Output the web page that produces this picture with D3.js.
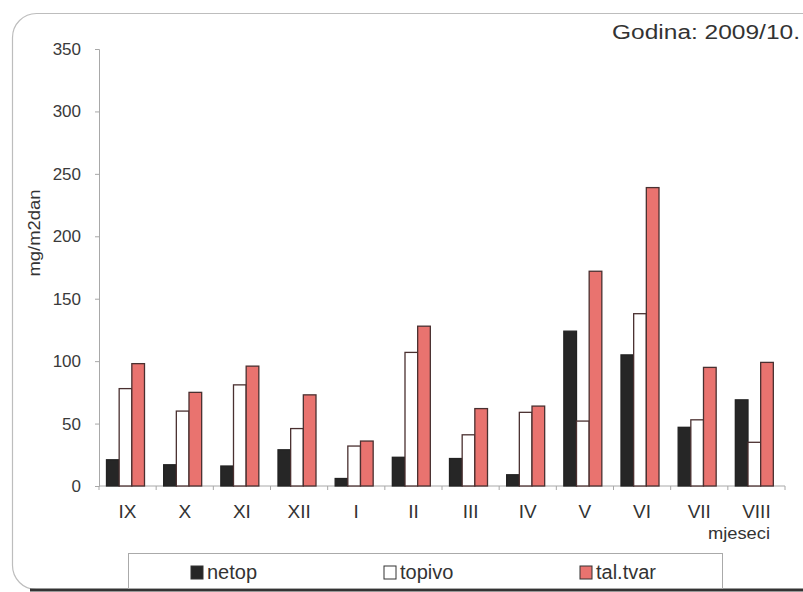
<!DOCTYPE html>
<html>
<head>
<meta charset="utf-8">
<script src="https://cdn.jsdelivr.net/npm/d3@7"></script>
<style>
  body { margin: 0; background: #fff; }
  svg { display: block; font-family: "Liberation Sans", Arial, sans-serif; }
</style>
</head>
<body>
<script>
// months of the season (Roman numerals)
const months = ["IX", "X", "XI", "XII", "I", "II", "III", "IV", "V", "VI", "VII", "VIII"];
const seriesNames = ["netop", "topivo", "tal.tvar"];
const netop   = [21, 17, 16, 29, 6, 23, 22, 9, 124, 105, 47, 69];
const topivo  = [78, 60, 81, 46, 32, 107, 41, 59, 52, 138, 53, 35];
const talTvar = [98, 75, 96, 73, 36, 128, 62, 64, 172, 239, 95, 99];
const yTicks = [0, 50, 100, 150, 200, 250, 300, 350];
const colors = ["#262626", "#ffffff", "#e9736f"];

function main() {
    let width = 803, height = 592;
    let svg = d3.select("body").append("svg")
        .attr("width", width)
        .attr("height", height);

    // rounded frame of the scanned chart
    svg.append("rect")
        .attr("x", 12.5).attr("y", 13.5)
        .attr("width", 820).attr("height", 576)
        .attr("rx", 24)
        .attr("fill", "#fff")
        .attr("stroke", "#bdbdbd")
        .attr("stroke-width", 1.2);
    svg.append("line")
        .attr("x1", 30).attr("x2", 803)
        .attr("y1", 590).attr("y2", 590)
        .attr("stroke", "#333").attr("stroke-width", 3);

    let x0 = d3.scaleBand().domain(months).range([99, 785]).padding(0);
    let x1 = d3.scaleBand().domain(seriesNames).range([7.5, 45.5]).padding(0);
    let y = d3.scaleLinear().domain([0, 350]).range([486, 49]);

    let data = months.map((m, i) => ({
        month: m,
        values: [netop[i], topivo[i], talTvar[i]]
    }));

    // y axis
    let yAxis = svg.append("g")
        .attr("transform", "translate(99,0)")
        .call(d3.axisLeft(y).tickValues(yTicks).tickSize(4).tickPadding(14));
    yAxis.select(".domain").attr("stroke", "#a8a8a8");
    yAxis.selectAll(".tick line").attr("stroke", "#a8a8a8");
    yAxis.selectAll(".tick text")
        .attr("font-size", 17)
        .attr("fill", "#3a3a3a")
        .attr("font-family", "Liberation Sans, Arial, sans-serif");

    // x axis, ticks on category boundaries
    let boundaries = months.map(m => x0(m)).concat([x0(months[months.length - 1]) + x0.bandwidth()]);
    svg.append("line")
        .attr("x1", 99).attr("x2", 785)
        .attr("y1", y(0)).attr("y2", y(0))
        .attr("stroke", "#a8a8a8");
    svg.append("g").selectAll("line")
        .data(boundaries)
        .enter().append("line")
        .attr("x1", d => d).attr("x2", d => d)
        .attr("y1", y(0)).attr("y2", y(0) + 4)
        .attr("stroke", "#a8a8a8");
    svg.append("g").selectAll("text")
        .data(months)
        .enter().append("text")
        .attr("x", d => x0(d) + x0.bandwidth() / 2)
        .attr("y", 518)
        .attr("text-anchor", "middle")
        .attr("font-size", 19)
        .attr("fill", "#333")
        .text(d => d);

    // bars
    let groups = svg.append("g").selectAll("g")
        .data(data)
        .enter().append("g")
        .attr("transform", d => "translate(" + x0(d.month) + ",0)");
    groups.selectAll("rect")
        .data(d => d.values.map((v, i) => ({ key: seriesNames[i], value: v, i: i })))
        .enter().append("rect")
        .attr("x", d => x1(d.key))
        .attr("y", d => y(d.value))
        .attr("width", x1.bandwidth())
        .attr("height", d => y(0) - y(d.value))
        .attr("fill", d => colors[d.i])
        .attr("stroke", d => d.i === 0 ? "#222" : "#4a3030")
        .attr("stroke-width", 1.3);

    // title and axis labels
    svg.append("text")
        .attr("x", 612).attr("y", 39)
        .attr("font-size", 20)
        .attr("fill", "#333")
        .attr("textLength", 188)
        .attr("lengthAdjust", "spacingAndGlyphs")
        .text("Godina: 2009/10.");

    svg.append("text")
        .attr("transform", "translate(40,233) rotate(-90)")
        .attr("text-anchor", "middle")
        .attr("font-size", 17)
        .attr("fill", "#333")
        .attr("textLength", 87)
        .attr("lengthAdjust", "spacingAndGlyphs")
        .text("mg/m2dan");

    svg.append("text")
        .attr("x", 708).attr("y", 539)
        .attr("font-size", 17)
        .attr("fill", "#333")
        .attr("textLength", 62)
        .attr("lengthAdjust", "spacingAndGlyphs")
        .text("mjeseci");

    // legend
    let legend = svg.append("g");
    legend.append("rect")
        .attr("x", 128.5).attr("y", 553.5)
        .attr("width", 594).attr("height", 35)
        .attr("fill", "#fff")
        .attr("stroke", "#aaa");
    let legendX = [191, 384, 580];
    let items = legend.selectAll("g.item")
        .data(seriesNames)
        .enter().append("g")
        .attr("class", "item")
        .attr("transform", (d, i) => "translate(" + legendX[i] + ",566)");
    items.append("rect")
        .attr("width", 12).attr("height", 13)
        .attr("fill", (d, i) => colors[i])
        .attr("stroke", "#333");
    items.append("text")
        .attr("x", 16).attr("y", 13)
        .attr("font-size", 20)
        .attr("fill", "#333")
        .text(d => d);
}

main();
</script>
</body>
</html>
